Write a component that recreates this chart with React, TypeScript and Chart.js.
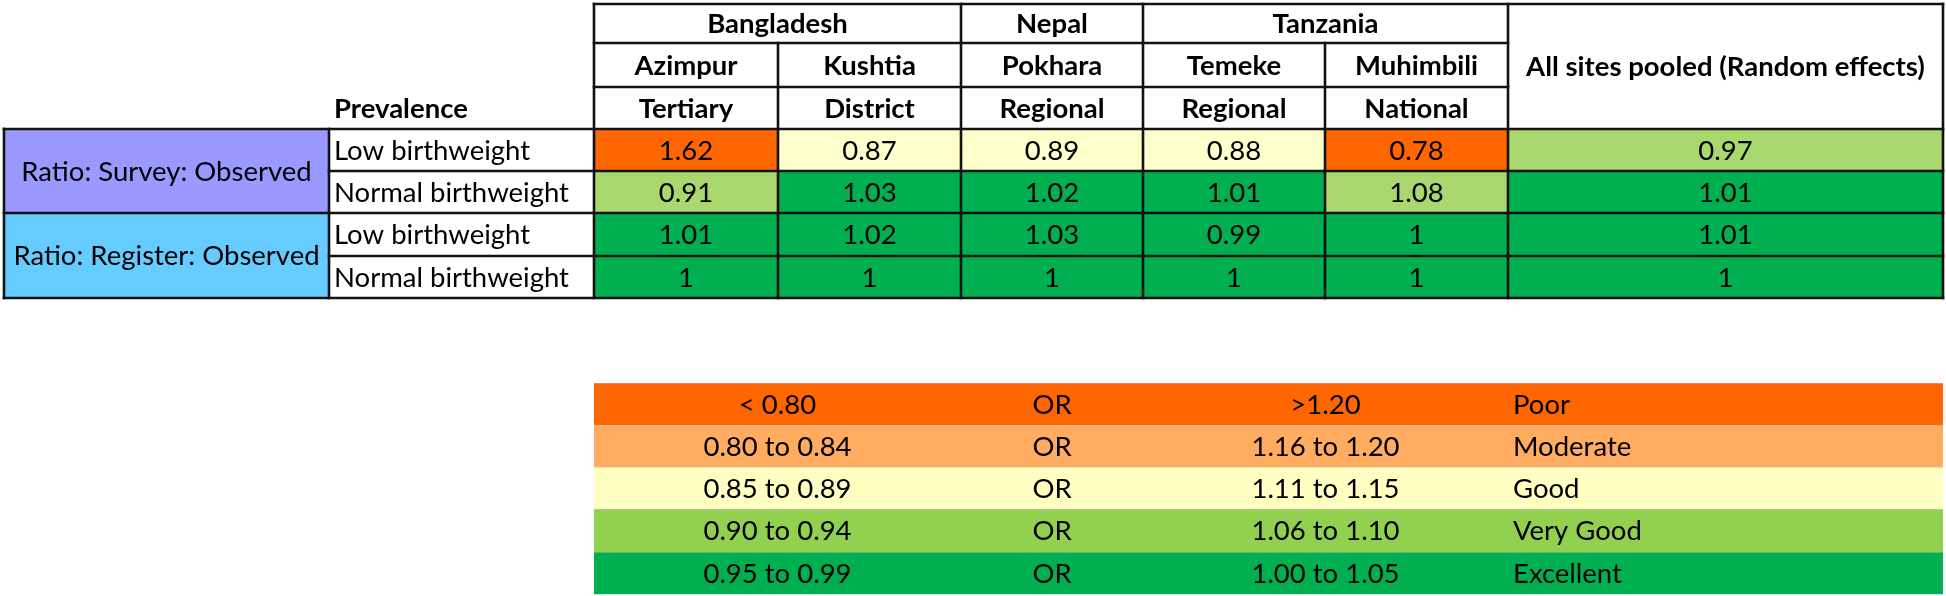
import { useEffect, useRef } from "react";
import { Chart, registerables } from "chart.js";

Chart.register(...registerables);

// ---------- data ----------
const countries = ["Bangladesh", "Nepal", "Tanzania"];
const countrySpans = [2, 1, 2];
const sites = ["Azimpur", "Kushtia", "Pokhara", "Temeke", "Muhimbili"];
const siteLevels = ["Tertiary", "District", "Regional", "Regional", "National"];
const pooledLabel = "All sites pooled (Random effects)";
const prevalenceTitle = "Prevalence";
const ratioGroups = ["Ratio: Survey: Observed", "Ratio: Register: Observed"];
const prevalenceLabels = ["Low birthweight", "Normal birthweight"];

const surveyLow = [1.62, 0.87, 0.89, 0.88, 0.78, 0.97];
const surveyNormal = [0.91, 1.03, 1.02, 1.01, 1.08, 1.01];
const registerLow = [1.01, 1.02, 1.03, 0.99, 1, 1.01];
const registerNormal = [1, 1, 1, 1, 1, 1];

const surveyLowGrade = ["Poor", "Good", "Good", "Good", "Poor", "Very Good"];
const surveyNormalGrade = ["Very Good", "Excellent", "Excellent", "Excellent", "Very Good", "Excellent"];
const registerLowGrade = ["Excellent", "Excellent", "Excellent", "Excellent", "Excellent", "Excellent"];
const registerNormalGrade = ["Excellent", "Excellent", "Excellent", "Excellent", "Excellent", "Excellent"];

const legendLow = ["< 0.80", "0.80 to 0.84", "0.85 to 0.89", "0.90 to 0.94", "0.95 to 0.99"];
const legendJoin = ["OR", "OR", "OR", "OR", "OR"];
const legendHigh = [">1.20", "1.16 to 1.20", "1.11 to 1.15", "1.06 to 1.10", "1.00 to 1.05"];
const legendGrades = ["Poor", "Moderate", "Good", "Very Good", "Excellent"];

// ---------- layout & style ----------
const COL_W = [325, 265, 184, 183, 182, 182, 183, 435];
const ROW_H = [39, 44, 42, 42, 42, 43, 42, 85, 42, 42, 42, 43, 42];
const FONT = "Lato, 'Open Sans', sans-serif";
const FONT_SIZE = 27.5;
const LINE = "#121212";

const tableColors: Record<string, string> = {
  Poor: "#FF6600",
  Moderate: "#FFAC60",
  Good: "#FFFFCC",
  "Very Good": "#A9D86E",
  Excellent: "#00B050",
};
const legendColors: Record<string, string> = {
  Poor: "#FF6600",
  Moderate: "#FFAC60",
  Good: "#FFFFC2",
  "Very Good": "#92D050",
  Excellent: "#00B050",
};
const groupColors = ["#9999FF", "#66CCFF"];

const cumulative = (arr: number[]) => {
  const out = [0];
  arr.forEach((v) => out.push(out[out.length - 1] + v));
  return out;
};
const colEdges = cumulative(COL_W);
const rowEdges = cumulative(ROW_H);

const tablePlugin = {
  id: "tableCells",
  beforeDraw(chart: any) {
    const ctx = chart.ctx as CanvasRenderingContext2D;
    ctx.save();
    ctx.fillStyle = "#ffffff";
    ctx.fillRect(0, 0, chart.width, chart.height);
    ctx.restore();
  },
  afterDraw(chart: any) {
    const ctx = chart.ctx as CanvasRenderingContext2D;
    const xs = chart.scales.x;
    const ys = chart.scales.y;
    const X = (i: number) => Math.round(xs.getPixelForValue(colEdges[i]));
    const Y = (i: number) => Math.round(ys.getPixelForValue(rowEdges[i]));

    const fill = (c0: number, c1: number, r0: number, r1: number, color: string) => {
      ctx.fillStyle = color;
      ctx.fillRect(X(c0), Y(r0), X(c1) - X(c0), Y(r1) - Y(r0));
    };
    const text = (
      str: string,
      c0: number,
      c1: number,
      r0: number,
      r1: number,
      bold = false,
      align: "center" | "left" = "center"
    ) => {
      ctx.font = `${bold ? "bold " : ""}${FONT_SIZE}px ${FONT}`;
      ctx.fillStyle = "#000000";
      ctx.textBaseline = "alphabetic";
      ctx.textAlign = align;
      const yc = (Y(r0) + Y(r1)) / 2 + FONT_SIZE * 0.35;
      const xp = align === "center" ? (X(c0) + X(c1)) / 2 : X(c0) + 5;
      ctx.fillText(str, xp, yc);
    };

    ctx.save();

    // ----- header -----
    let c = 2;
    countries.forEach((name, i) => {
      text(name, c, c + countrySpans[i], 0, 1, true);
      c += countrySpans[i];
    });
    sites.forEach((s, i) => text(s, 2 + i, 3 + i, 1, 2, true));
    siteLevels.forEach((s, i) => text(s, 2 + i, 3 + i, 2, 3, true));
    text(pooledLabel, 7, 8, 0, 3, true);
    text(prevalenceTitle, 1, 2, 2, 3, true, "left");

    // ----- body -----
    const bodyRows = [
      { values: surveyLow, grades: surveyLowGrade },
      { values: surveyNormal, grades: surveyNormalGrade },
      { values: registerLow, grades: registerLowGrade },
      { values: registerNormal, grades: registerNormalGrade },
    ];
    ratioGroups.forEach((g, i) => {
      fill(0, 1, 3 + i * 2, 5 + i * 2, groupColors[i]);
      text(g, 0, 1, 3 + i * 2, 5 + i * 2);
    });
    bodyRows.forEach((row, r) => {
      const rr = 3 + r;
      text(prevalenceLabels[r % 2], 1, 2, rr, rr + 1, false, "left");
      row.values.forEach((v, k) => {
        fill(2 + k, 3 + k, rr, rr + 1, tableColors[row.grades[k]]);
        text(String(v), 2 + k, 3 + k, rr, rr + 1);
      });
    });

    // ----- legend -----
    legendGrades.forEach((g, i) => {
      const rr = 8 + i;
      fill(2, 8, rr, rr + 1, legendColors[g]);
      text(legendLow[i], 2, 4, rr, rr + 1);
      text(legendJoin[i], 4, 5, rr, rr + 1);
      text(legendHigh[i], 5, 7, rr, rr + 1);
      text(g, 7, 8, rr, rr + 1, false, "left");
    });
    ctx.strokeStyle = "rgba(190,190,190,0.45)";
    ctx.lineWidth = 1;
    for (let r = 8; r <= 13; r++) {
      ctx.beginPath();
      ctx.moveTo(X(2), Y(r) + 0.5);
      ctx.lineTo(X(8), Y(r) + 0.5);
      ctx.stroke();
    }

    // ----- grid lines -----
    ctx.strokeStyle = LINE;
    ctx.lineWidth = 2.6;
    ctx.lineCap = "square";
    const h = (r: number, c0: number, c1: number) => {
      ctx.beginPath();
      ctx.moveTo(X(c0), Y(r));
      ctx.lineTo(X(c1), Y(r));
      ctx.stroke();
    };
    const v = (cc: number, r0: number, r1: number) => {
      ctx.beginPath();
      ctx.moveTo(X(cc), Y(r0));
      ctx.lineTo(X(cc), Y(r1));
      ctx.stroke();
    };
    h(0, 2, 8);
    h(1, 2, 7);
    h(2, 2, 7);
    h(3, 0, 8);
    h(4, 1, 8);
    h(5, 0, 8);
    h(6, 1, 8);
    h(7, 0, 8);
    [2, 4, 5, 7, 8].forEach((cc) => v(cc, 0, 7));
    [3, 6].forEach((cc) => v(cc, 1, 7));
    [0, 1].forEach((cc) => v(cc, 3, 7));

    ctx.restore();
  },
};

export default function App() {
  const canvasRef = useRef<HTMLCanvasElement | null>(null);

  useEffect(() => {
    document.body.style.margin = "0";
    const canvas = canvasRef.current;
    if (!canvas) return;
    const chart = new Chart(canvas, {
      type: "scatter",
      data: { datasets: [] },
      options: {
        responsive: false,
        animation: false,
        devicePixelRatio: 1,
        layout: { padding: { left: 4, top: 4, right: 3, bottom: 2 } },
        plugins: { legend: { display: false }, tooltip: { enabled: false } },
        scales: {
          x: { type: "linear", min: 0, max: colEdges[colEdges.length - 1], display: false },
          y: { type: "linear", min: 0, max: rowEdges[rowEdges.length - 1], reverse: true, display: false },
        },
      },
      plugins: [tablePlugin],
    });
    return () => chart.destroy();
  }, []);

  return (
    <div style={{ width: 1946, height: 596 }}>
      <canvas ref={canvasRef} width={1946} height={596} style={{ display: "block" }} />
    </div>
  );
}
